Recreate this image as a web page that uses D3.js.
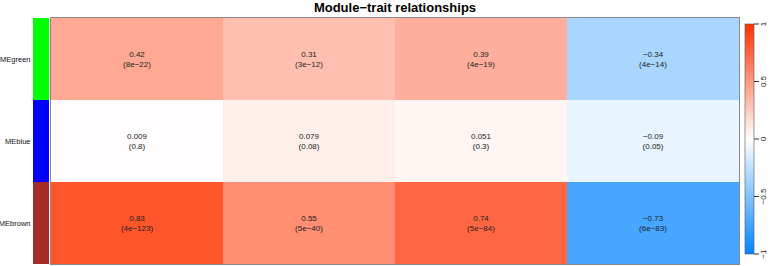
<!DOCTYPE html>
<html>
<head>
<meta charset="utf-8">
<script src="https://cdn.jsdelivr.net/npm/d3@7"></script>
<style>
  body { margin: 0; background: #fff; }
  svg { display: block; font-family: "Liberation Sans", Arial, sans-serif; }
</style>
</head>
<body>
<svg id="chart" width="770" height="266"></svg>
<script>
const modules = ['MEgreen', 'MEblue', 'MEbrown'];
const moduleColors = ['#00FF00', '#0000FF', '#A52A2A'];
const traits = ['T1', 'T2', 'T3', 'T4'];

// correlations, one array per module row
const corGreen = [0.42, 0.31, 0.39, -0.34];
const corBlue = [0.009, 0.079, 0.051, -0.09];
const corBrown = [0.83, 0.55, 0.74, -0.73];

const pGreen = ['8e-22', '3e-12', '4e-19', '4e-14'];
const pBlue = ['0.8', '0.08', '0.3', '0.05'];
const pBrown = ['4e-123', '5e-40', '5e-84', '6e-83'];

const legendTicks = [-1, -0.5, 0, 0.5, 1];

const cors = [corGreen, corBlue, corBrown];
const pvals = [pGreen, pBlue, pBrown];
const cells = [];
modules.forEach((m, i) => traits.forEach((t, j) => {
  cells.push({ module: m, trait: t, cor: cors[i][j], p: pvals[i][j] });
}));

const minus = s => String(s).replace(/-/g, '\u2212');

const svg = d3.select('#chart');
const margin = { top: 18, left: 51, right: 31, bottom: 2 };
const width = 770 - margin.left - margin.right;
const height = 266 - margin.top - margin.bottom;

const x = d3.scaleBand().domain(traits).range([margin.left, margin.left + width]);
const y = d3.scaleBand().domain(modules).range([margin.top, margin.top + height]);

const color = d3.scaleLinear()
  .domain([-1, 0, 1])
  .range(['#0385FF', '#FFFFFF', '#FF3200']);

// title
svg.append('text')
  .attr('x', 395)
  .attr('y', 12)
  .attr('text-anchor', 'middle')
  .attr('font-weight', 'bold')
  .attr('font-size', 13)
  .text('Module\u2212trait relationships');

// heatmap cells
svg.selectAll('.cell')
  .data(cells)
  .enter()
  .append('rect')
  .attr('class', 'cell')
  .attr('x', d => x(d.trait))
  .attr('y', d => y(d.module))
  .attr('width', x.bandwidth())
  .attr('height', y.bandwidth())
  .attr('fill', d => color(d.cor));

const labels = svg.selectAll('.lab')
  .data(cells)
  .enter()
  .append('text')
  .attr('class', 'lab')
  .attr('text-anchor', 'middle')
  .attr('font-size', 8)
  .attr('fill', '#222');
labels.append('tspan')
  .attr('x', d => x(d.trait) + x.bandwidth() / 2)
  .attr('y', d => y(d.module) + y.bandwidth() / 2 - 2)
  .text(d => minus(d.cor));
labels.append('tspan')
  .attr('x', d => x(d.trait) + x.bandwidth() / 2)
  .attr('y', d => y(d.module) + y.bandwidth() / 2 + 8)
  .text(d => '(' + minus(d.p) + ')');

// border
svg.append('rect')
  .attr('x', margin.left - 0.5)
  .attr('y', margin.top - 0.5)
  .attr('width', width + 1)
  .attr('height', height + 1)
  .attr('fill', 'none')
  .attr('stroke', '#8a8a8a')
  .attr('stroke-width', 1);

// module color bars
svg.selectAll('.mc')
  .data(modules)
  .enter()
  .append('rect')
  .attr('x', 33)
  .attr('y', d => y(d))
  .attr('width', 16)
  .attr('height', y.bandwidth())
  .attr('fill', (d, i) => moduleColors[i]);

svg.selectAll('.ml')
  .data(modules)
  .enter()
  .append('text')
  .attr('x', 30.5)
  .attr('y', d => y(d) + y.bandwidth() / 2 + 3)
  .attr('text-anchor', 'end')
  .attr('font-size', 7.5)
  .attr('fill', '#111')
  .text(d => d);

// legend
const lx = 745, lw = 9;
const ly = d3.scaleLinear().domain([-1, 1]).range([254, 24]);
const defs = svg.append('defs');
const grad = defs.append('linearGradient')
  .attr('id', 'lg')
  .attr('x1', 0).attr('y1', 1).attr('x2', 0).attr('y2', 0);
d3.range(-1, 1.001, 0.1).forEach(v => {
  grad.append('stop')
    .attr('offset', ((v + 1) / 2 * 100) + '%')
    .attr('stop-color', color(v));
});
svg.append('rect')
  .attr('x', lx)
  .attr('y', ly(1))
  .attr('width', lw)
  .attr('height', ly(-1) - ly(1))
  .attr('fill', 'url(#lg)')
  .attr('stroke', '#555')
  .attr('stroke-width', 0.6);

const axis = d3.axisRight(ly)
  .tickValues(legendTicks)
  .tickSize(5)
  .tickFormat(d => minus(d));
const ag = svg.append('g')
  .attr('transform', `translate(${lx + lw},0)`)
  .call(axis);
ag.select('.domain').remove();
ag.selectAll('line').attr('stroke', '#333');
ag.selectAll('text')
  .attr('font-size', 8)
  .attr('fill', '#222')
  .attr('font-family', '"Liberation Sans", Arial, sans-serif')
  .attr('x', 0)
  .attr('dy', 0)
  .attr('text-anchor', 'middle')
  .attr('transform', d => `translate(12,${ly(d)}) rotate(-90)`)
  .attr('y', 0);
ag.selectAll('.tick').attr('transform', 'translate(0,0)');
ag.selectAll('.tick line')
  .attr('y1', d => ly(d))
  .attr('y2', d => ly(d))
  .attr('x2', 5);
</script>
</body>
</html>
